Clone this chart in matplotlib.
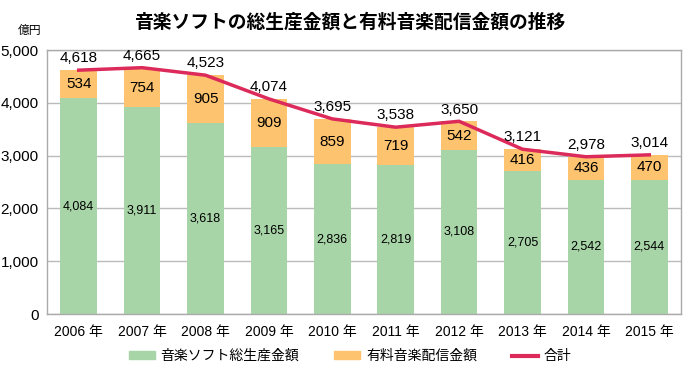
import matplotlib
matplotlib.use("Agg")
import matplotlib.pyplot as plt
import numpy as np

plt.rcParams['font.family'] = ['Liberation Sans', 'Noto Sans CJK JP', 'DejaVu Sans']

years = ["2006 年", "2007 年", "2008 年", "2009 年", "2010 年", "2011 年", "2012 年", "2013 年", "2014 年", "2015 年"]
soft = [4084, 3911, 3618, 3165, 2836, 2819, 3108, 2705, 2542, 2544]
digital = [534, 754, 905, 909, 859, 719, 542, 416, 436, 470]
total = [4618, 4665, 4523, 4074, 3695, 3538, 3650, 3121, 2978, 3014]
yticks = [0, 1000, 2000, 3000, 4000, 5000]

green = "#a8d5a8"
orange = "#fec36e"
red = "#dc2a5a"
cjk = ['Noto Sans CJK JP', 'DejaVu Sans']

fig = plt.figure(figsize=(7.0, 3.77), dpi=100)
ax = fig.add_axes([47/700, 1-314/377, 634/700, 264/377])
x = np.arange(len(years))
ax.bar(x, soft, width=0.58, color=green, zorder=2)
ax.bar(x, digital, bottom=soft, width=0.58, color=orange, zorder=2)
ax.plot(x, total, color=red, lw=2.5, zorder=3)

for i in range(len(years)):
    ax.text(x[i], soft[i]/2, f"{soft[i]:,}", ha='center', va='center', fontsize=9, zorder=4)
    ax.text(x[i], soft[i] + digital[i]/2, f"{digital[i]:,}", ha='center', va='center', fontsize=11, zorder=4)
    ax.text(x[i], total[i] + 90, f"{total[i]:,}", ha='center', va='bottom', fontsize=11, zorder=4)

ax.set_xlim(-0.5, len(years)-0.5)
ax.set_ylim(0, 5000)
ax.set_yticks(yticks)
ax.set_yticklabels([f"{v:,}" for v in yticks], fontsize=11)
ax.set_xticks(x)
ax.set_xticklabels(years, fontsize=10)
ax.tick_params(length=0, pad=8)
ax.tick_params(axis='y', pad=6)
ax.grid(axis='y', color='#bbbbbb', lw=1, zorder=0)
for s in ax.spines.values():
    s.set_color('#aaaaaa')
    s.set_linewidth(1)

fig.text(0.5, 1-22/377, "音楽ソフトの総生産金額と有料音楽配信金額の推移", ha='center', va='center',
         fontsize=13.5, fontweight='bold', family=cjk)
fig.text(30/700, 1-30/377, "億円", ha='center', va='center', fontsize=8.5, family=cjk)

from matplotlib.patches import Patch
from matplotlib.lines import Line2D
handles = [Patch(color=green), Patch(color=orange), Line2D([0], [0], color=red, lw=3)]
labels = ["音楽ソフト総生産金額", "有料音楽配信金額", "合計"]
fig.legend(handles, labels, loc='center', bbox_to_anchor=(0.5, 1-356/377), ncol=3, frameon=False,
           prop={'family': cjk, 'size': 10}, handlelength=1.9, handleheight=0.5,
           columnspacing=2.5, handletextpad=0.4)

fig.savefig("out.png", dpi=100)
